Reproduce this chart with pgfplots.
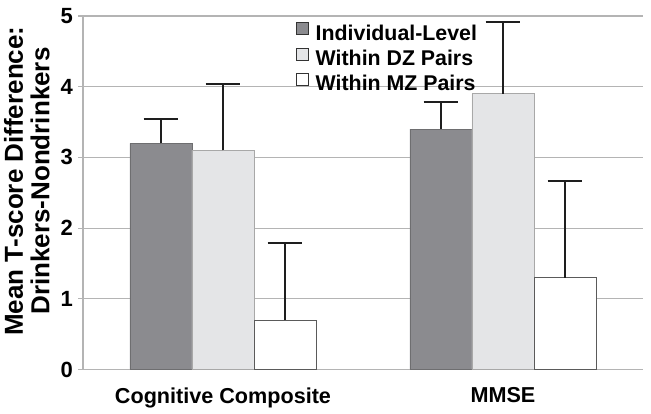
\documentclass[border=0pt]{standalone}
\usepackage{pgfplots}
\pgfplotsset{compat=1.18}
\usepackage{fontspec}
\setmainfont{Liberation Sans}
\definecolor{barDark}{HTML}{8B8B8F}
\definecolor{barLight}{HTML}{E4E5E7}
\definecolor{edgeDark}{HTML}{6E6E70}
\definecolor{edgeLight}{HTML}{A8A8A8}
\definecolor{edgeWhite}{HTML}{5A5A5A}
\definecolor{gridc}{HTML}{B4B4B4}
\definecolor{errc}{HTML}{1E1E1E}
\pgfplotsset{
  sqlegend/.style={
    legend image code/.code={
      \draw[##1,draw=black!80,line width=0.6pt] (0pt,0pt) rectangle (9pt,9pt);
    }
  }
}
\begin{document}
\begin{tikzpicture}
\useasboundingbox (-62.25pt,-33.375pt) rectangle (426pt,277.125pt);
\begin{axis}[
  at={(0pt,0pt)}, anchor=south west,
  scale only axis,
  width=420pt, height=265.125pt,
  xmin=-0.5, xmax=1.5, ymin=0, ymax=5,
  ybar=0pt, bar width=46.5pt,
  axis x line*=bottom, axis y line*=left,
  axis line style={gridc, line width=0.8pt},
  ymajorgrids, grid style={gridc, line width=0.8pt},
  ytick={0,1,2,3,4,5},
  tick align=outside,
  major tick length=3.4pt,
  ytick style={draw=gridc, line width=0.8pt},
  xtick={0,1},
  xticklabels={Cognitive Composite, MMSE},
  xtick style={draw=none},
  extra x ticks={-0.5,0.5,1.5},
  extra x tick labels={},
  extra x tick style={grid=none, tick style={draw=gridc, line width=0.8pt}, major tick length=4.5pt},
  /pgf/number format/assume math mode=true,
  yticklabel style={font=\fontsize{16.5pt}{18pt}\selectfont\bfseries, inner sep=0pt, xshift=-4pt},
  xticklabel style={font=\fontsize{16.2pt}{18pt}\selectfont\bfseries, inner sep=0pt, yshift=-10pt},
  ylabel={Mean T-score Difference:\\Drinkers-Nondrinkers},
  ylabel style={font=\fontsize{19.5pt}{20pt}\selectfont\bfseries, align=center, inner sep=0pt,
    at={(rel axis cs:-0.059,0.533)}, anchor=south},
  sqlegend,
  legend style={at={(rel axis cs:0.372,0.99)}, anchor=north west, draw=none, fill=none,
    font=\fontsize{16pt}{18pt}\selectfont\bfseries,
    nodes={inner sep=0pt, text height=12pt, text depth=4pt}, row sep=1.5pt,
    /tikz/every odd column/.append style={column sep=5.5pt}},
  legend cell align=left,
  error bars/y dir=plus, error bars/y explicit,
  error bars/error bar style={line width=1.5pt, errc},
  error bars/error mark options={rotate=90, mark size=13pt, line width=1.5pt, errc},
]
\addplot[fill=barDark, draw=edgeDark, line width=0.6pt] coordinates {
  (0,3.20) +- (0,0.35)
  (1,3.40) +- (0,0.39)
};
\addplot[fill=barLight, draw=edgeLight, line width=0.6pt] coordinates {
  (0,3.10) +- (0,0.94)
  (1,3.90) +- (0,1.01)
};
\addplot[fill=white, draw=edgeWhite, line width=0.6pt] coordinates {
  (0,0.70) +- (0,1.09)
  (1,1.30) +- (0,1.37)
};
\legend{Individual-Level, Within DZ Pairs, Within MZ Pairs}
\end{axis}
\end{tikzpicture}
\end{document}
